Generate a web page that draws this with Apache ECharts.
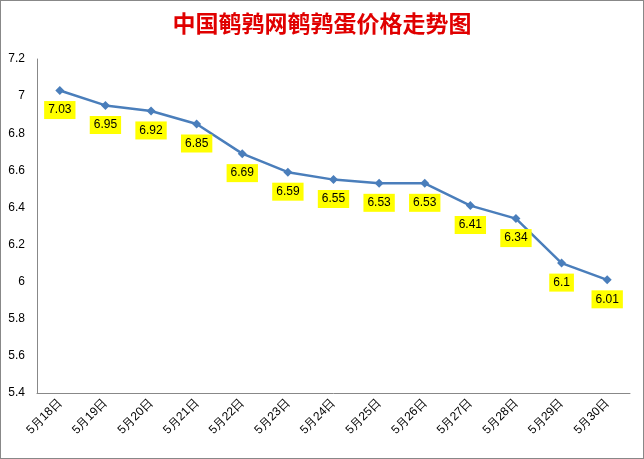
<!DOCTYPE html><html><head><meta charset="utf-8"><script src="https://cdn.jsdelivr.net/npm/echarts@6/dist/echarts.min.js"></script>
<style>html,body{margin:0;padding:0;}#c{width:644px;height:459px;box-sizing:border-box;border:1px solid #888;}</style></head><body><div id="c"></div><script>
const categories=['5月18日','5月19日','5月20日','5月21日','5月22日','5月23日','5月24日','5月25日','5月26日','5月27日','5月28日','5月29日','5月30日'];
const prices=[7.03,6.95,6.92,6.85,6.69,6.59,6.55,6.53,6.53,6.41,6.34,6.1,6.01];
const chart=echarts.init(document.getElementById('c'));
chart.setOption({
 title:{text:'中国鹌鹑网鹌鹑蛋价格走势图',left:'center',top:6,textStyle:{color:'#e00000',fontSize:23,fontWeight:'bold',fontFamily:'Noto Sans CJK SC'}},
 grid:{left:36,right:13,top:58,bottom:65},
 xAxis:{type:'category',data:categories,boundaryGap:true,axisLine:{lineStyle:{color:'#888'}},axisTick:{show:false},
  axisLabel:{rotate:45,color:'#000',fontSize:12,margin:8,interval:0}},
 yAxis:{type:'value',min:5.4,max:7.2,interval:0.2,splitLine:{show:false},axisLine:{show:true,lineStyle:{color:'#888'}},axisTick:{show:false},
  axisLabel:{color:'#000',fontSize:12,margin:12,formatter:v=>String(+v.toFixed(2))}},
 series:[{type:'line',data:prices,symbol:'diamond',symbolSize:9,itemStyle:{color:'#4a7ebb'},lineStyle:{color:'#4a7ebb',width:2.5},
  label:{show:true,position:'bottom',distance:6,color:'#000',fontSize:12,backgroundColor:'#ffff00',padding:[3,4]}}]
});
</script></body></html>
